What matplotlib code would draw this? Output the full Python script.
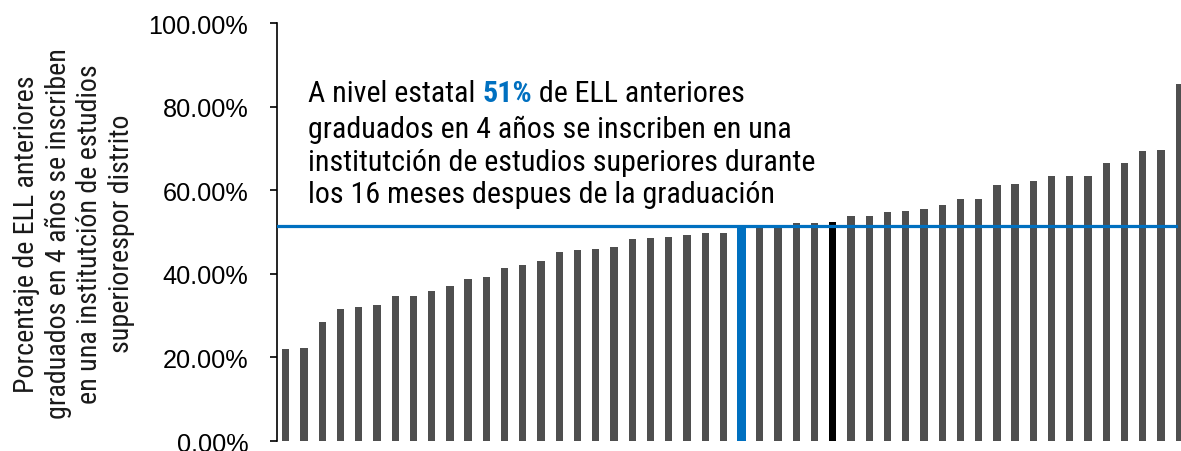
import numpy as np
import matplotlib.pyplot as plt
from matplotlib.ticker import PercentFormatter

# district values, sorted ascending
valores = [22.0, 22.3, 28.4, 31.6, 32.0, 32.6, 34.7, 34.8, 35.9, 37.1,
           38.7, 39.2, 41.5, 42.2, 43.0, 45.1, 45.7, 45.9, 46.3, 48.4,
           48.5, 48.7, 49.2, 49.8, 49.8, 51.0, 51.1, 51.3, 52.2, 52.2,
           52.4, 53.8, 53.8, 54.8, 55.0, 55.5, 56.4, 57.8, 57.9, 61.3,
           61.4, 62.3, 63.3, 63.4, 63.4, 66.4, 66.4, 69.3, 69.5, 85.5]
estatal = 51.4          # state-level reference line
idx_estado = 25         # blue bar
idx_distrito = 30       # black bar

colores = ['#4F4F4F'] * len(valores)
colores[idx_estado] = '#0070C0'
colores[idx_distrito] = '#000000'
anchos = [0.4] * len(valores)
anchos[idx_estado] = 0.5

narrow = ['Roboto Condensed', 'Fira Sans Condensed', 'DejaVu Sans']

fig = plt.figure(figsize=(11.81, 4.52), dpi=100)
ax = fig.add_axes([0.2343, 0.0221, 0.7657, 0.9248])

x = np.arange(len(valores))
ax.bar(x, valores, width=anchos, color=colores, zorder=2)
ax.axhline(estatal, xmin=0, xmax=0.994, color='#0070C0', lw=2.3, zorder=3)

ax.set_xlim(-0.5, 49.1)
ax.set_ylim(0, 100)
ax.set_yticks(np.arange(0, 101, 20))
ax.yaxis.set_major_formatter(PercentFormatter(decimals=2))
ax.tick_params(axis='y', direction='out', length=5, width=1.2, pad=15.5,
               labelsize=18.2)
for lab in ax.get_yticklabels():
    lab.set_family(['Liberation Sans', 'DejaVu Sans'])
ax.set_xticks([])
for s in ['top', 'right', 'bottom']:
    ax.spines[s].set_visible(False)
ax.spines['left'].set_linewidth(1.2)

fig.text(74 / 1181, 1 - 234 / 452,
         'Porcentaje de ELL anteriores\ngraduados en 4 años se inscriben\n'
         'en una institutción de estudios\nsuperiorespor distrito',
         rotation=90, ha='center', va='center', multialignment='center',
         family=narrow, fontsize=20.2, linespacing=1.22, color='#1a1a1a')

# annotation with the bold blue 51%
x0, y0 = 0.0346, 0.866
fs = 21.6
t1 = ax.text(x0, y0, 'A nivel estatal ', transform=ax.transAxes,
             ha='left', va='top', family=narrow, fontsize=fs)
t2 = ax.annotate('51%', xy=(1, 0), xycoords=t1, ha='left', va='bottom',
                 family=narrow, fontsize=fs, fontweight='bold', color='#0070C0')
t3 = ax.annotate(' de ELL anteriores', xy=(1, 0), xycoords=t2, ha='left',
                 va='bottom', family=narrow, fontsize=fs)
ax.annotate('graduados en 4 años se inscriben en una\n'
            'institutción de estudios superiores durante\n'
            'los 16 meses despues de la graduación',
            xy=(x0, y0), xycoords='axes fraction', xytext=(0, -25.9),
            textcoords='offset points', ha='left', va='top',
            family=narrow, fontsize=fs, linespacing=1.2)

fig.savefig('out.png', dpi=100)
